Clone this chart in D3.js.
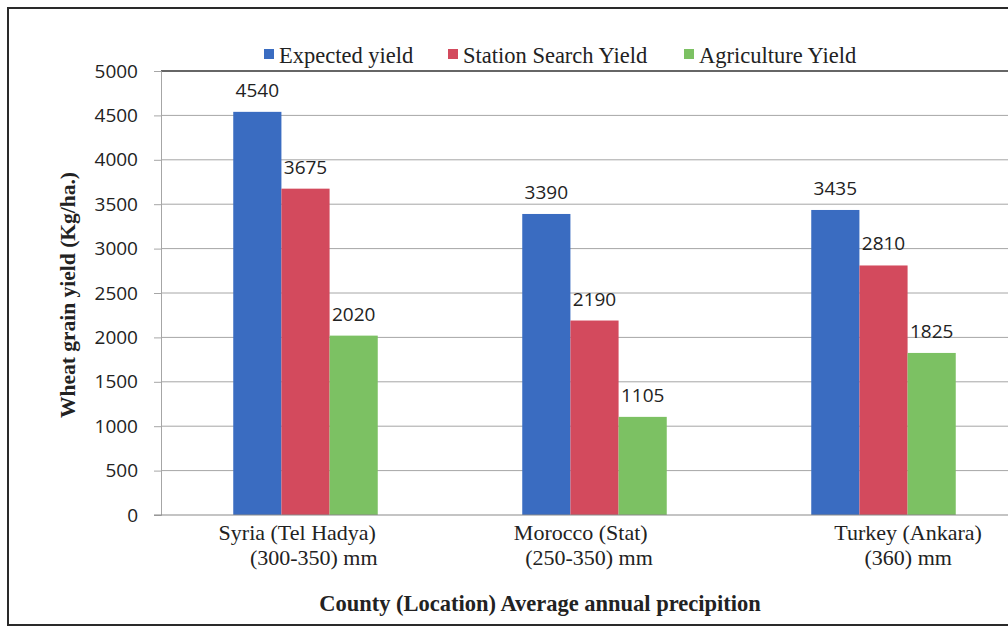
<!DOCTYPE html>
<html>
<head>
<meta charset="utf-8">
<script src="https://cdn.jsdelivr.net/npm/d3@7"></script>
<style>
  html, body { margin: 0; padding: 0; background: #fff; }
  svg { display: block; }
  .serif { font-family: "Liberation Serif", "Times New Roman", serif; }
  .sans { font-family: "Open Sans", "Noto Sans", sans-serif; }
</style>
</head>
<body>
<svg id="chart" width="1008" height="627"></svg>
<script>
// Wheat grain yield by location and source
const categories = [
  ["Syria (Tel Hadya)   ", "   (300-350) mm"],
  ["Morocco (Stat)     ", "(250-350) mm  "],
  ["         Turkey (Ankara)", "         (360) mm"]
];
const seriesNames = ["Expected yield", "Station Search Yield", "Agriculture Yield"];
const expectedYield = [4540, 3390, 3435];
const stationYield = [3675, 2190, 2810];
const agricultureYield = [2020, 1105, 1825];
const yTicks = [0, 500, 1000, 1500, 2000, 2500, 3000, 3500, 4000, 4500, 5000];
const colors = ["#3a6cc1", "#d34a5d", "#7cc163"];

const seriesValues = [expectedYield, stationYield, agricultureYield];
const keys = categories.map(c => c.join(" "));

const svg = d3.select("#chart");
const W = 1008, H = 627;
const plot = { left: 161, top: 71, bottom: 515, right: 1028 };

// outer frame
svg.append("rect")
  .attr("x", 8).attr("y", 8).attr("width", 1060).attr("height", 617)
  .attr("fill", "none").attr("stroke", "#2a2a2a").attr("stroke-width", 2);

const y = d3.scaleLinear().domain([0, 5000]).range([plot.bottom, plot.top]);
const x0 = d3.scaleBand().domain(keys).range([plot.left, plot.right])
  .paddingInner(0.5).paddingOuter(0.25);
const x1 = d3.scaleBand().domain(seriesNames).range([0, x0.bandwidth()]);

// gridlines
svg.append("g").selectAll("line").data(yTicks.filter(t => t > 0 && t < 5000)).join("line")
  .attr("x1", plot.left).attr("x2", W)
  .attr("y1", d => y(d)).attr("y2", d => y(d))
  .attr("stroke", "#a6a6a6").attr("stroke-width", 1);
svg.append("line")
  .attr("x1", plot.left).attr("x2", W)
  .attr("y1", y(5000)).attr("y2", y(5000))
  .attr("stroke", "#333").attr("stroke-width", 1.5);

// bars
const groups = svg.append("g").selectAll("g").data(keys).join("g")
  .attr("transform", d => `translate(${x0(d)},0)`);
groups.selectAll("rect")
  .data((d, i) => seriesNames.map((s, j) => ({ s, j, v: seriesValues[j][i] })))
  .join("rect")
  .attr("x", d => x1(d.s)).attr("width", x1.bandwidth())
  .attr("y", d => y(d.v)).attr("height", d => y(0) - y(d.v))
  .attr("fill", d => colors[d.j]);
groups.selectAll("text")
  .data((d, i) => seriesNames.map((s, j) => ({ s, j, v: seriesValues[j][i] })))
  .join("text")
  .attr("class", "sans")
  .attr("x", d => x1(d.s) + x1.bandwidth() / 2)
  .attr("y", d => y(d.v) - 15)
  .attr("text-anchor", "middle")
  .attr("font-size", 19).attr("fill", "#222")
  .text(d => d.v);

// y axis
const yAxis = svg.append("g")
  .attr("transform", `translate(${plot.left},0)`)
  .call(d3.axisLeft(y).tickValues(yTicks).tickSize(7).tickPadding(16).tickFormat(d3.format("d")));
yAxis.select(".domain").attr("stroke", "#a6a6a6");
yAxis.selectAll(".tick line").attr("stroke", "#a6a6a6");
yAxis.selectAll(".tick text")
  .attr("class", "sans").attr("font-size", 19).attr("fill", "#222");

// baseline
svg.append("line")
  .attr("x1", plot.left - 7).attr("x2", W)
  .attr("y1", y(0)).attr("y2", y(0))
  .attr("stroke", "#8a8a8a").attr("stroke-width", 1.2);

// category labels
const catLabels = svg.append("g").selectAll("text").data(categories).join("text")
  .attr("class", "serif")
  .attr("font-size", 22).attr("fill", "#222")
  .attr("text-anchor", "middle")
  .style("white-space", "pre")
  .attr("x", (d, i) => x0(keys[i]) + x0.bandwidth() / 2)
  .attr("y", 540);
catLabels.selectAll("tspan").data(d => d).join("tspan")
  .attr("x", function () { return d3.select(this.parentNode).attr("x"); })
  .attr("dy", (d, i) => i === 0 ? 0 : 25)
  .text(d => d);

// axis titles
svg.append("text")
  .attr("class", "serif")
  .attr("x", 540).attr("y", 611)
  .attr("text-anchor", "middle")
  .attr("font-size", 22.5).attr("font-weight", "bold").attr("fill", "#222")
  .text("County (Location) Average annual precipition");

svg.append("text")
  .attr("class", "serif")
  .attr("transform", "translate(75,295) rotate(-90)")
  .attr("text-anchor", "middle")
  .attr("font-size", 21.5).attr("font-weight", "bold").attr("fill", "#222")
  .text("Wheat grain yield (Kg/ha.)");

// legend
const legendX = [264, 448, 684];
const legend = svg.append("g").selectAll("g").data(seriesNames).join("g")
  .attr("transform", (d, i) => `translate(${legendX[i]},49)`);
legend.append("rect").attr("width", 10).attr("height", 10)
  .attr("fill", (d, i) => colors[i]);
legend.append("text")
  .attr("class", "serif")
  .attr("x", 15).attr("y", 14)
  .attr("font-size", 22.5).attr("fill", "#222")
  .text(d => d);
</script>
</body>
</html>
